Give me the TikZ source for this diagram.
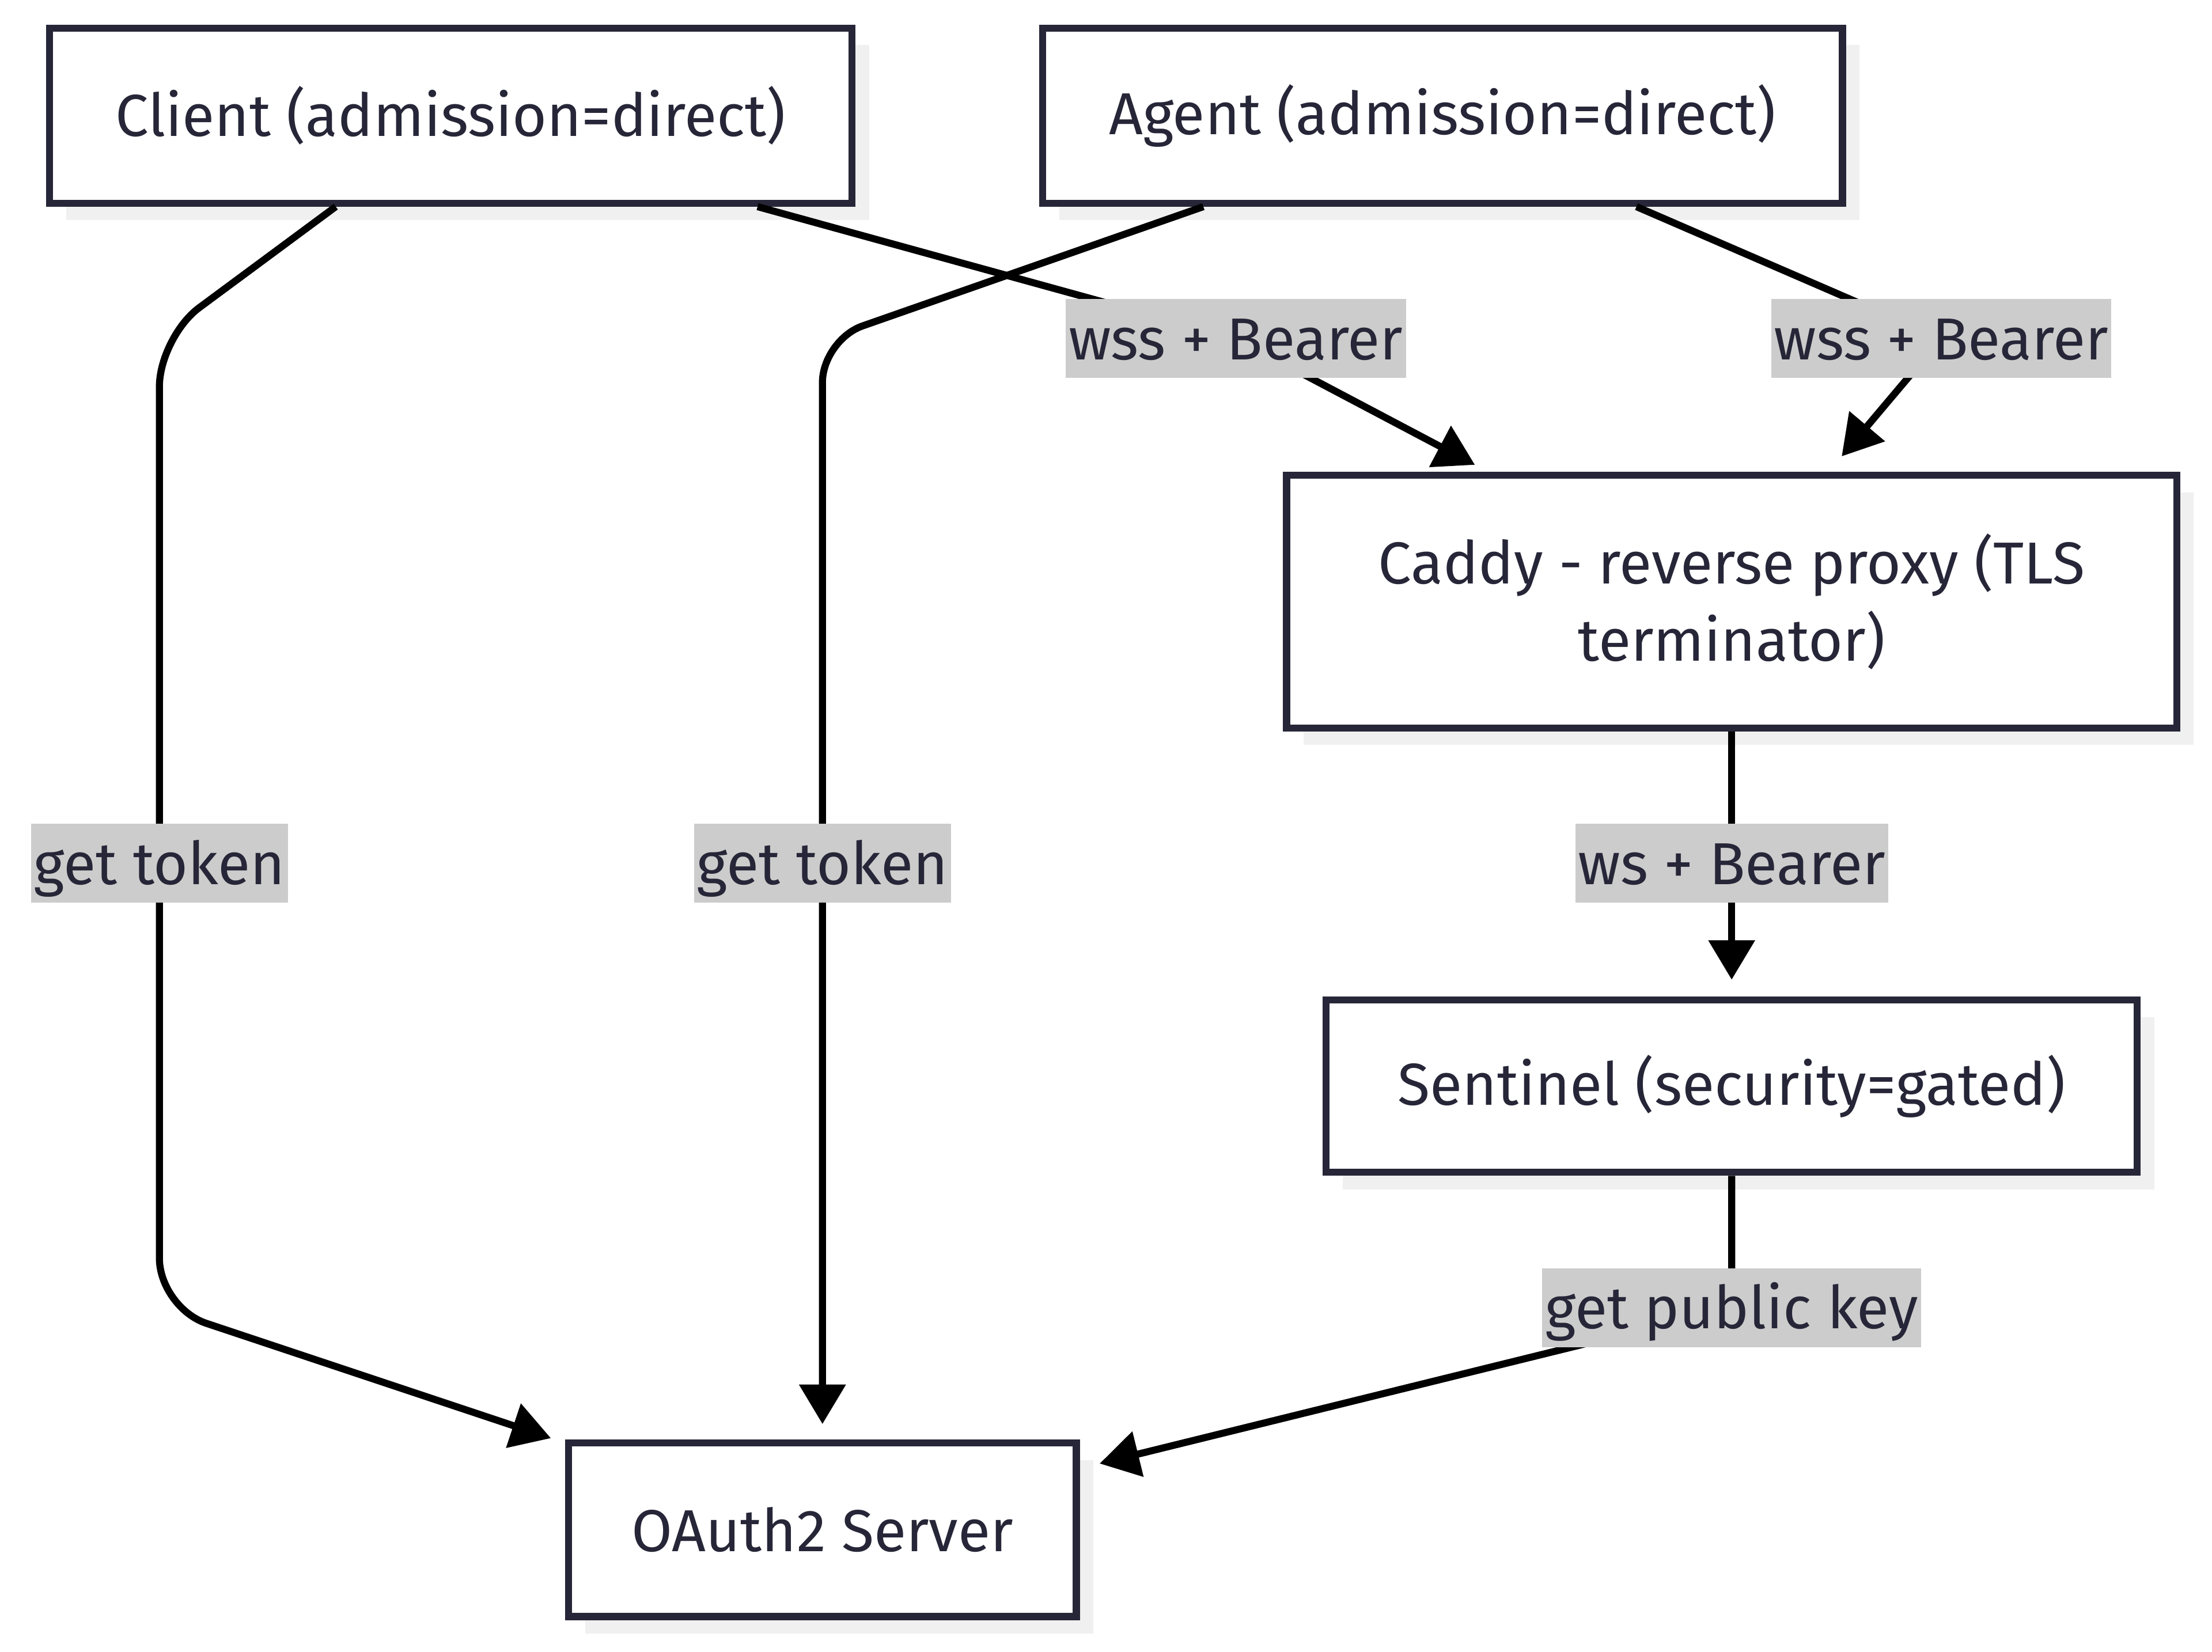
\documentclass[tikz,border=0pt]{standalone}
\usepackage{fontspec}
\setmainfont{Fira Sans}
\usetikzlibrary{arrows.meta,shadows,calc}
\definecolor{ink}{HTML}{262638}
\definecolor{lblbg}{HTML}{CCCCCC}
\definecolor{shade}{HTML}{F0F0F0}
\tikzset{
  box/.style={draw=ink, line width=5pt, fill=white, text=ink,
    font=\fontsize{42}{55}\selectfont, inner sep=0pt, align=center,
    drop shadow={shadow xshift=12pt, shadow yshift=-12pt, fill=shade, opacity=1}},
  conn/.style={line width=5pt, draw=black, -{Triangle[length=28pt,width=32pt]}},
  lbl/.style={sharp corners, fill=lblbg, text=ink, font=\fontsize{42}{50}\selectfont,
    inner xsep=2pt, inner ysep=6pt, text height=37pt, text depth=7pt}
}
\begin{document}
\begin{tikzpicture}[x=1pt,y=-1pt]
\useasboundingbox (0,0) rectangle (1568,1171);
\node[box, minimum width=569pt, minimum height=124pt] (client) at (319.5,82) {Client (admission=direct)};
\node[box, minimum width=567pt, minimum height=124pt] (agent) at (1022.5,82) {Agent (admission=direct)};
\node[box, minimum width=631pt, minimum height=179pt] (caddy) at (1227.5,426.5) {Caddy - reverse proxy (TLS\\terminator)};
\node[box, minimum width=575pt, minimum height=122pt] (sentinel) at (1227.5,770) {Sentinel (security=gated)};
\node[box, minimum width=360pt, minimum height=123pt] (oauth) at (583,1084.5) {OAuth2 Server};

\draw[conn, rounded corners=35pt] ([xshift=-81.5pt]client.south) -- (113,239) -- (113,612) node[lbl]{get token} -- (113,927) -- ($(oauth.north west)+(-10,-1)$);
\draw[conn] ([xshift=217.5pt]client.south) -- (876,240) node[lbl]{wss + Bearer} -- ($(caddy.north west)+(136,-5)$);
\draw[conn, rounded corners=30pt] ([xshift=-169.5pt]agent.south) -- (583,241) -- (583,612) node[lbl]{get token} -- ($(oauth.north)+(0,-11)$);
\draw[conn] ([xshift=137.5pt]agent.south) -- (1376,240) node[lbl]{wss + Bearer} -- ($(caddy.north west)+(396,-11)$);
\draw[conn] (caddy.south) -- (1227.5,612) node[lbl]{ws + Bearer} -- ($(sentinel.north)+(0,-12)$);
\draw[conn] (sentinel.south) -- (1227.5,927) node[lbl]{get public key} -- ($(oauth.north east)+(14,17)$);
\end{tikzpicture}
\end{document}
